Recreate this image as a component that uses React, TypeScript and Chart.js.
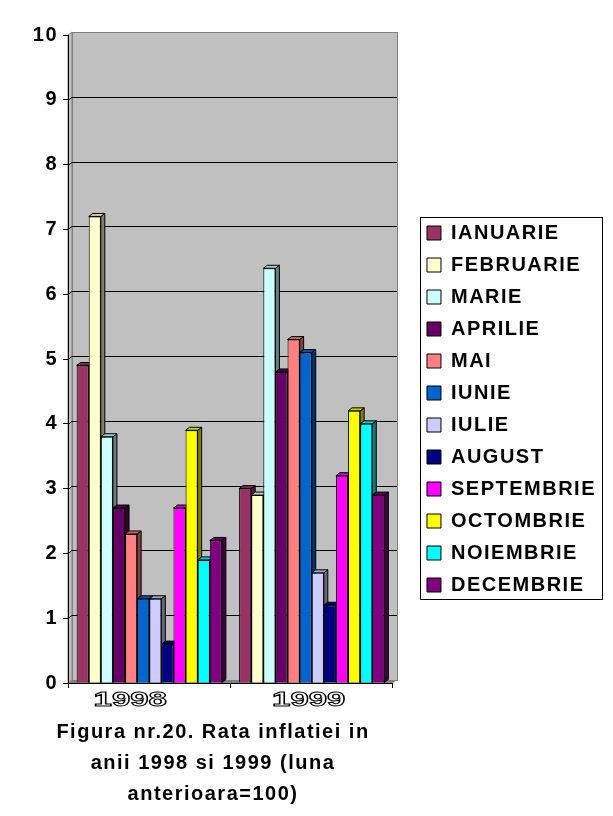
import React, { useEffect, useRef } from 'react';
import { Chart, registerables } from 'chart.js';

Chart.register(...registerables);

// ---- data ----
const YEARS = ['1998', '1999'];
const MONTHS = [
  'IANUARIE', 'FEBRUARIE', 'MARIE', 'APRILIE', 'MAI', 'IUNIE',
  'IULIE', 'AUGUST', 'SEPTEMBRIE', 'OCTOMBRIE', 'NOIEMBRIE', 'DECEMBRIE',
];
const VALUES_1998 = [4.9, 7.2, 3.8, 2.7, 2.3, 1.3, 1.3, 0.6, 2.7, 3.9, 1.9, 2.2];
const VALUES_1999 = [3.0, 2.9, 6.4, 4.8, 5.3, 5.1, 1.7, 1.2, 3.2, 4.2, 4.0, 2.9];
const Y_MIN = 0;
const Y_MAX = 10;
const TITLE_LINES = ['Figura nr.20. Rata inflatiei in', 'anii 1998 si 1999 (luna', 'anterioara=100)'];

// ---- styles ----
const COLORS = [
  '#993366', '#FFFFCC', '#CCFFFF', '#660066', '#FF8080', '#0066CC',
  '#CCCCFF', '#000080', '#FF00FF', '#FFFF00', '#00FFFF', '#800080',
];
const FONT = '"Liberation Sans", Arial, sans-serif';
const SPACING = '1.5px';
const DX = 4;
const DY = 3;
const YEAR_SHIFT = [-19, -3];
const TITLE_X = 213;

function shade(hex: string, f: number) {
  const n = parseInt(hex.slice(1), 16);
  const r = Math.round(((n >> 16) & 255) * f);
  const g = Math.round(((n >> 8) & 255) * f);
  const b = Math.round((n & 255) * f);
  return `rgb(${r},${g},${b})`;
}

const decor = {
  id: 'decor',
  beforeLayout(chart: any) {
    chart.ctx.letterSpacing = SPACING;
  },
  beforeDraw(chart: any) {
    const ctx = chart.ctx;
    const { left, right, top, bottom } = chart.chartArea;
    ctx.letterSpacing = SPACING;
    ctx.save();
    ctx.lineWidth = 1;
    // back wall
    ctx.fillStyle = '#C0C0C0';
    ctx.fillRect(left + DX, top - DY, right - left, bottom - top);
    // left wall
    ctx.beginPath();
    ctx.moveTo(left, top);
    ctx.lineTo(left + DX, top - DY);
    ctx.lineTo(left + DX, bottom - DY);
    ctx.lineTo(left, bottom);
    ctx.closePath();
    ctx.fill();
    ctx.strokeStyle = '#808080';
    ctx.stroke();
    ctx.strokeRect(left + DX + 0.5, top - DY + 0.5, right - left, bottom - top);
    // grid lines on the wall
    const ys = chart.scales.y;
    ctx.strokeStyle = '#000';
    for (let v = Y_MIN + 1; v < Y_MAX; v++) {
      const p = Math.round(ys.getPixelForValue(v));
      ctx.beginPath();
      ctx.moveTo(left + DX, p - DY + 0.5);
      ctx.lineTo(right + DX, p - DY + 0.5);
      ctx.stroke();
      ctx.beginPath();
      ctx.moveTo(left, p + 0.5);
      ctx.lineTo(left + DX, p - DY + 0.5);
      ctx.stroke();
    }
    // floor
    ctx.fillStyle = '#808080';
    ctx.beginPath();
    ctx.moveTo(left, bottom);
    ctx.lineTo(right, bottom);
    ctx.lineTo(right + DX, bottom - DY);
    ctx.lineTo(left + DX, bottom - DY);
    ctx.closePath();
    ctx.fill();
    ctx.restore();
  },
  beforeDatasetsDraw(chart: any) {
    const ctx = chart.ctx;
    ctx.save();
    ctx.lineWidth = 1;
    ctx.strokeStyle = '#000';
    chart.data.datasets.forEach((ds: any, di: number) => {
      const meta = chart.getDatasetMeta(di);
      meta.data.forEach((bar: any) => {
        const { x, y, base, width } = bar.getProps(['x', 'y', 'base', 'width'], true);
        const l = x - width / 2;
        const r = x + width / 2;
        // side face
        ctx.fillStyle = shade(ds.backgroundColor, 0.5);
        ctx.beginPath();
        ctx.moveTo(r, y);
        ctx.lineTo(r + DX, y - DY);
        ctx.lineTo(r + DX, base - DY);
        ctx.lineTo(r, base);
        ctx.closePath();
        ctx.fill();
        ctx.stroke();
        // top face
        ctx.fillStyle = shade(ds.backgroundColor, 0.8);
        ctx.beginPath();
        ctx.moveTo(l, y);
        ctx.lineTo(l + DX, y - DY);
        ctx.lineTo(r + DX, y - DY);
        ctx.lineTo(r, y);
        ctx.closePath();
        ctx.fill();
        ctx.stroke();
      });
    });
    ctx.restore();
  },
  afterDraw(chart: any) {
    const ctx = chart.ctx;
    ctx.save();
    // legend frame
    const hb = chart.legend && chart.legend.legendHitBoxes;
    if (hb && hb.length) {
      const first = hb[0];
      const last = hb[hb.length - 1];
      let maxR = 0;
      hb.forEach((h: any) => { maxR = Math.max(maxR, h.left + h.width); });
      const x0 = Math.round(first.left - 7) + 0.5;
      const y0 = Math.round(first.top - 6) + 0.5;
      const x1 = Math.round(maxR + 6) + 0.5;
      const y1 = Math.round(last.top + last.height + 4) + 0.5;
      ctx.strokeStyle = '#000';
      ctx.lineWidth = 1;
      ctx.strokeRect(x0, y0, x1 - x0, y1 - y0);
    }
    // category labels (outlined, stretched)
    const xs = chart.scales.x;
    const { bottom } = chart.chartArea;
    YEARS.forEach((label, i) => {
      const cx = xs.getPixelForValue(i) + YEAR_SHIFT[i];
      ctx.save();
      ctx.letterSpacing = '0px';
      ctx.translate(cx, bottom + 17);
      ctx.scale(1.65, 1);
      ctx.font = `bold 20px ${FONT}`;
      ctx.textAlign = 'center';
      ctx.textBaseline = 'middle';
      ctx.fillStyle = '#fff';
      ctx.fillText(label, 0, 0);
      ctx.strokeStyle = '#000';
      ctx.lineWidth = 1;
      ctx.strokeText(label, 0, 0);
      ctx.restore();
    });
    // title under the chart
    ctx.letterSpacing = SPACING;
    ctx.font = `bold 20px ${FONT}`;
    ctx.fillStyle = '#000';
    ctx.textAlign = 'center';
    ctx.textBaseline = 'alphabetic';
    TITLE_LINES.forEach((line, i) => {
      ctx.fillText(line, TITLE_X, bottom + 55 + i * 31);
    });
    ctx.restore();
  },
};

export default function App() {
  const ref = useRef<HTMLCanvasElement | null>(null);

  useEffect(() => {
    if (!ref.current) return;
    const datasets = MONTHS.map((m, i) => ({
      label: m,
      data: [VALUES_1998[i], VALUES_1999[i]],
      backgroundColor: COLORS[i],
      borderColor: '#000',
      borderWidth: 1,
      categoryPercentage: 0.894,
      barPercentage: 1.0,
    }));
    const chart = new Chart(ref.current, {
      type: 'bar',
      data: { labels: YEARS, datasets },
      plugins: [decor],
      options: {
        responsive: false,
        animation: false,
        events: [],
        font: { family: FONT, size: 20, weight: 'bold' },
        color: '#000',
        layout: { padding: { top: 35, bottom: 33, left: 0, right: 7 } },
        scales: {
          x: {
            ticks: { display: false },
            grid: { display: true, offset: true, drawOnChartArea: false, drawTicks: true, tickLength: 5, color: '#000' },
            border: { display: true, color: '#000' },
            afterFit: (s: any) => { s.height = 100; },
          },
          y: {
            min: Y_MIN,
            max: Y_MAX,
            ticks: { stepSize: 1, color: '#000', padding: 5, font: { family: FONT, size: 20, weight: 'bold' } },
            grid: { drawOnChartArea: false, drawTicks: true, tickLength: 5, color: '#000' },
            border: { display: true, color: '#000' },
            afterFit: (s: any) => { s.width = 68; },
          },
          y2: {
            position: 'right',
            display: true,
            min: Y_MIN,
            max: Y_MAX,
            ticks: { display: false },
            grid: { display: false },
            border: { display: false },
            afterFit: (s: any) => { s.width = 22; },
          },
        },
        plugins: {
          legend: {
            position: 'right',
            maxWidth: 260,
            labels: {
              boxWidth: 14,
              boxHeight: 14,
              padding: 12,
              color: '#000',
              font: { family: FONT, size: 20, weight: 'bold' },
            },
          },
          title: { display: false },
          tooltip: { enabled: false },
        },
      } as any,
    });
    return () => chart.destroy();
  }, []);

  return (
    <div style={{ position: 'absolute', left: 0, top: 0, width: 613, height: 816, background: '#fff' }}>
      <canvas ref={ref} width={613} height={816} style={{ display: 'block' }} />
    </div>
  );
}
